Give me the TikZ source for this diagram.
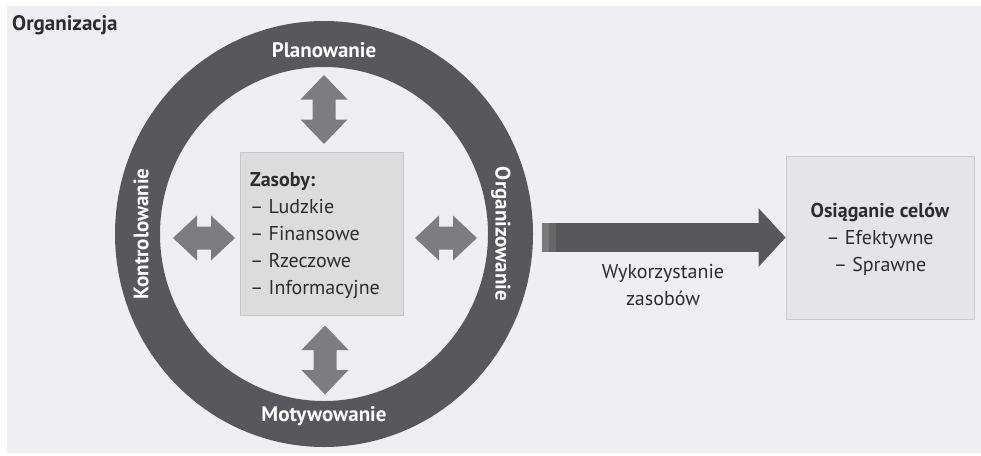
\documentclass[tikz,border=0pt]{standalone}
\usepackage{fontspec}
\setmainfont{PT Sans}
\usetikzlibrary{arrows.meta}
\definecolor{bgcol}{RGB}{239,239,241}
\definecolor{ringcol}{RGB}{88,88,90}
\definecolor{arrcol}{RGB}{125,125,127}
\definecolor{boxcol}{RGB}{220,220,221}
\definecolor{goalcol}{RGB}{229,229,231}
\definecolor{txtcol}{RGB}{45,45,45}
\tikzset{
  ringtext/.style={text=white, font=\fontsize{21}{24}\selectfont\bfseries, inner sep=0pt},
  resbox/.style={fill=boxcol, draw=black!22, line width=0.8pt, minimum width=163pt, minimum height=163pt, inner sep=0pt},
  goalbox/.style={fill=goalcol, draw=black!20, line width=0.8pt, minimum width=188pt, minimum height=163pt, inner sep=0pt},
  bodytext/.style={text=txtcol, font=\fontsize{20}{27}\selectfont, inner sep=0pt},
  dblarrow/.pic={\fill[arrcol] (-31,0) -- (-7,-22.5) -- (-7,-11.5) -- (7,-11.5) -- (7,-22.5) -- (31,0) -- (7,22.5) -- (7,11.5) -- (-7,11.5) -- (-7,22.5) -- cycle;},
  dblarrowlong/.pic={\fill[arrcol] (-34.5,0) -- (-10,-23.5) -- (-10,-11.5) -- (10,-11.5) -- (10,-23.5) -- (34.5,0) -- (10,23.5) -- (10,11.5) -- (-10,11.5) -- (-10,23.5) -- cycle;}
}
\begin{document}
\begin{tikzpicture}[x=1pt,y=-1pt]
\useasboundingbox (0,0) rectangle (981,455);
\fill[white] (0,0) rectangle (981,455);
\fill[bgcol] (7,6) rectangle (981,453);
% title
\node[anchor=west, text=txtcol, font=\fontsize{21}{24}\selectfont\bfseries, inner sep=0pt] (org) at (12,25) {Organizacja};
% ring
\fill[ringcol, even odd rule] (324,234) ellipse [x radius=209pt, y radius=213pt]
  (324,234) ellipse [x radius=164pt, y radius=167pt];
\node[ringtext] (plan) at (324,50) {Planowanie};
\node[ringtext] (mot) at (324,416) {Motywowanie};
\node[ringtext, rotate=90] (kon) at (141,234) {Kontrolowanie};
\node[ringtext, rotate=-90] (orgz) at (501,234) {Organizowanie};
% resources box
\node[resbox] (res) at (321.5,233.5) {};
\node[bodytext, anchor=north west, align=left] (restext) at (250,172)
  {\textbf{Zasoby:}\\– Ludzkie\\– Finansowe\\– Rzeczowe\\– Informacyjne};
% double arrows
\pic[rotate=90] at (324,109.5) {dblarrowlong};
\pic[rotate=90] at (325,360) {dblarrowlong};
\pic at (204,238) {dblarrow};
\pic at (446,238) {dblarrow};
% goal box
\node[goalbox] (goal) at (880,237.5) {};
\node[bodytext, align=center] (goaltext) at (880,239.5)
  {\textbf{Osiąganie celów}\\– Efektywne\\– Sprawne};
% big arrow
\coordinate (bs) at (542,237.5);
\draw[ringcol, line width=29pt, -{Triangle[length=27pt,width=57pt]}] (bs) -- (goal.west);
\fill[black!52] (542,223) rectangle (549,252);
\fill[black!60] (549,223) rectangle (556,252);
\node[bodytext, align=center] (use) at (663,285) {Wykorzystanie\\zasobów};
\end{tikzpicture}
\end{document}
